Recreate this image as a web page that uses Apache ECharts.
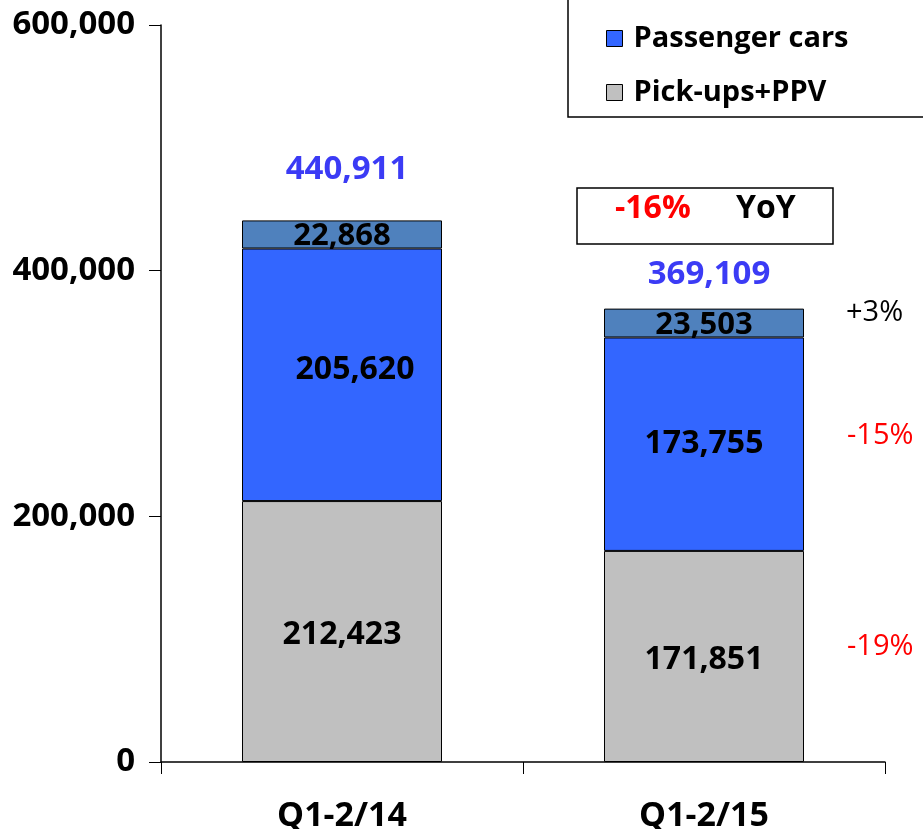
<!DOCTYPE html>
<html>
<head>
<meta charset="utf-8">
<script src="https://cdn.jsdelivr.net/npm/echarts@6/dist/echarts.min.js"></script>
<style>
  html, body { margin: 0; padding: 0; background: #fff; }
  #chart { width: 923px; height: 829px; }
</style>
</head>
<body>
<div id="chart"></div>
<script>
const categories = ['Q1-2/14', 'Q1-2/15'];
const pickups = [212423, 171851];
const passenger = [205620, 173755];
const others = [22868, 23503];
const totals = [440911, 369109];
const yoyTotal = '-16%';
const yoySegments = ['+3%', '-15%', '-19%'];

const font = '"Open Sans", "Liberation Sans", sans-serif';
const fmt = v => v.toLocaleString('en-US');

const chart = echarts.init(document.getElementById('chart'));

const segLabel = {
  show: true,
  position: 'inside',
  color: '#000',
  fontFamily: font,
  fontWeight: 'bold',
  fontSize: 32,
  formatter: p => fmt(p.value)
};

const option = {
  animation: false,
  grid: { left: 161, right: 38, top: 25, bottom: 67, containLabel: false, outerBoundsMode: 'none' },
  legend: {
    data: ['Passenger cars', 'Pick-ups+PPV'],
    orient: 'vertical',
    left: 601,
    top: 19,
    itemWidth: 16,
    itemHeight: 16,
    itemGap: 25,
    icon: 'rect',
    selectedMode: false,
    textStyle: { fontFamily: font, fontWeight: 'bold', fontSize: 29, color: '#000', padding: [0, 0, 0, 6] },
    itemStyle: { borderColor: '#000', borderWidth: 1 }
  },
  xAxis: {
    type: 'category',
    data: categories,
    axisLine: { lineStyle: { color: '#000', width: 1.5 } },
    axisTick: { show: true, length: 12, lineStyle: { color: '#000' } },
    axisLabel: {
      margin: 37,
      color: '#000',
      fontFamily: font,
      fontWeight: 'bold',
      fontSize: 34
    }
  },
  yAxis: {
    type: 'value',
    min: 0,
    max: 600000,
    interval: 200000,
    splitLine: { show: false },
    axisLine: { show: true, lineStyle: { color: '#000', width: 1.5 } },
    axisTick: { show: true, length: 12, lineStyle: { color: '#000' } },
    axisLabel: {
      margin: 26,
      color: '#000',
      fontFamily: font,
      fontWeight: 'bold',
      fontSize: 33,
      formatter: v => fmt(v)
    }
  },
  series: [
    {
      name: 'Pick-ups+PPV',
      type: 'bar',
      stack: 'total',
      barWidth: 200,
      data: pickups,
      itemStyle: { color: '#C0C0C0', borderColor: '#000', borderWidth: 1 },
      label: Object.assign({}, segLabel, { offset: [0, 3] })
    },
    {
      name: 'Passenger cars',
      type: 'bar',
      stack: 'total',
      data: passenger.map((v, i) => ({
        value: v,
        label: { offset: i === 0 ? [13, -5] : [0, 0] }
      })),
      itemStyle: { color: '#3366FF', borderColor: '#000', borderWidth: 1 },
      label: segLabel
    },
    {
      name: 'Other',
      type: 'bar',
      stack: 'total',
      data: others,
      itemStyle: { color: '#4F81BD', borderColor: '#000', borderWidth: 1 },
      label: Object.assign({}, segLabel, { fontSize: 31, offset: [0, 2] })
    },
    {
      name: 'Total',
      type: 'bar',
      barWidth: 200,
      barGap: '-100%',
      silent: true,
      z: 1,
      data: totals.map((v, i) => ({
        value: v,
        label: { distance: i === 0 ? 34 : 18 }
      })),
      itemStyle: { color: 'rgba(0,0,0,0)' },
      label: {
        show: true,
        position: 'top',
        offset: [5, 0],
        color: '#3B3BF5',
        fontFamily: font,
        fontWeight: 'bold',
        fontSize: 33,
        formatter: p => fmt(p.value)
      }
    }
  ],
  graphic: [
    {
      type: 'rect',
      shape: { x: 568, y: -5, width: 360, height: 122 },
      style: { fill: 'none', stroke: '#000', lineWidth: 1.5 },
      z: 10
    },
    {
      type: 'rect',
      shape: { x: 577, y: 188, width: 256, height: 56 },
      style: { fill: '#fff', stroke: '#000', lineWidth: 1.5 },
      z: 10
    },
    {
      type: 'text',
      left: 615,
      top: 193,
      z: 11,
      style: { text: yoyTotal, fill: '#FF0000', font: 'bold 32px ' + font }
    },
    {
      type: 'text',
      left: 736,
      top: 193,
      z: 11,
      style: { text: 'YoY', fill: '#000', font: 'bold 32px ' + font }
    },
    {
      type: 'text',
      left: 846,
      top: 298,
      z: 11,
      style: { text: yoySegments[0], fill: '#000', font: '29px ' + font }
    },
    {
      type: 'text',
      left: 847,
      top: 421,
      z: 11,
      style: { text: yoySegments[1], fill: '#FF0000', font: '29px ' + font }
    },
    {
      type: 'text',
      left: 847,
      top: 632,
      z: 11,
      style: { text: yoySegments[2], fill: '#FF0000', font: '29px ' + font }
    }
  ]
};

chart.setOption(option);
</script>
</body>
</html>
